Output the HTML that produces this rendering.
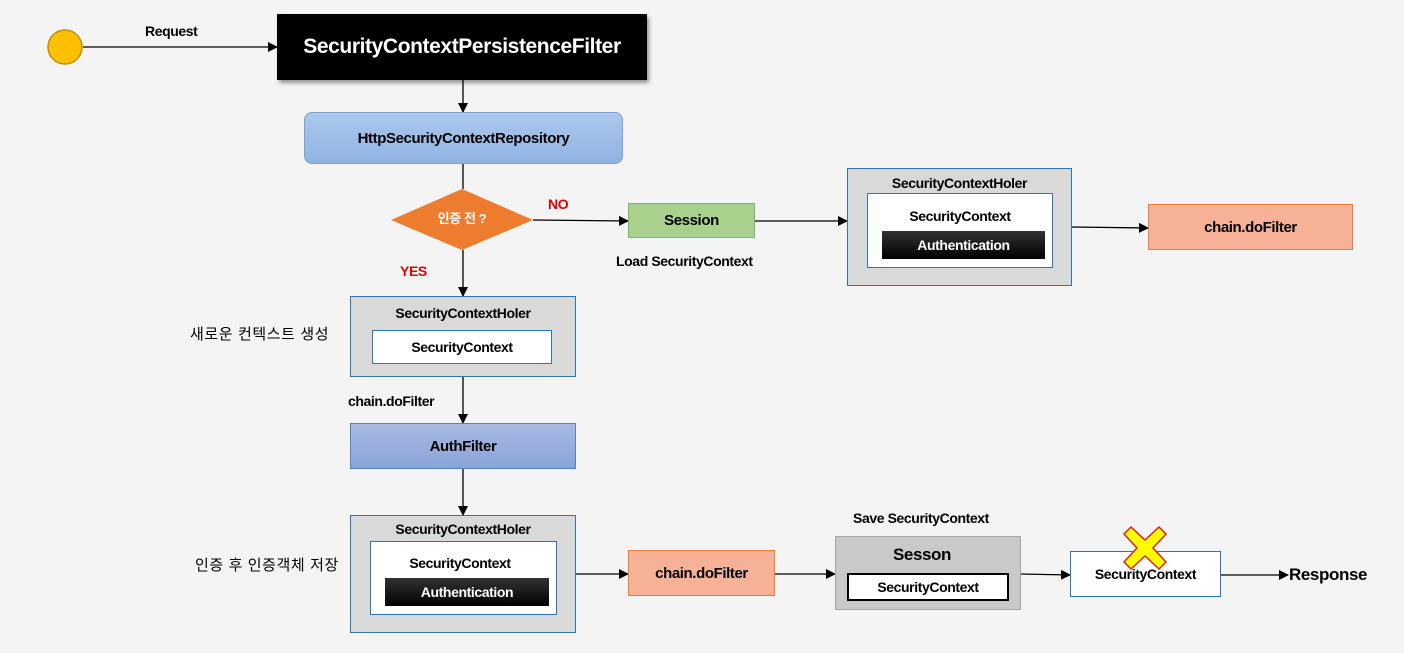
<!DOCTYPE html>
<html><head><meta charset="utf-8"><style>
body{margin:0;width:1404px;height:653px;background:#f4f4f4;position:relative;overflow:hidden;font-family:"Liberation Sans","Noto Sans CJK KR",sans-serif;font-weight:bold;color:#000}
.a{position:absolute;box-sizing:border-box;display:flex;align-items:center;justify-content:center;white-space:nowrap;letter-spacing:-0.4px}
.t{position:absolute;white-space:nowrap;font-size:14px;letter-spacing:-0.4px;line-height:16px}
svg{position:absolute;left:0;top:0}
</style></head><body>
<svg width="1404" height="653">
<defs><marker id="m" markerWidth="10" markerHeight="10" refX="9" refY="5" orient="auto" markerUnits="userSpaceOnUse"><path d="M0,0 L10,5 L0,10z" fill="#000"/></marker></defs>
<g stroke="#000" stroke-width="1.3" fill="none">
<line x1="83" y1="47" x2="277" y2="47" marker-end="url(#m)"/>
<line x1="463" y1="80" x2="463" y2="112" marker-end="url(#m)"/>
<line x1="463" y1="164" x2="463" y2="189"/>
<line x1="533" y1="220" x2="628" y2="221" marker-end="url(#m)"/>
<line x1="755" y1="221" x2="847" y2="221" marker-end="url(#m)"/>
<line x1="1072" y1="227" x2="1148" y2="228" marker-end="url(#m)"/>
<line x1="463" y1="250" x2="463" y2="296" marker-end="url(#m)"/>
<line x1="463" y1="377" x2="463" y2="423" marker-end="url(#m)"/>
<line x1="463" y1="469" x2="463" y2="515" marker-end="url(#m)"/>
<line x1="576" y1="574" x2="628" y2="574" marker-end="url(#m)"/>
<line x1="775" y1="574" x2="835" y2="574" marker-end="url(#m)"/>
<line x1="1021" y1="574" x2="1070" y2="575" marker-end="url(#m)"/>
<line x1="1221" y1="575" x2="1288" y2="575" marker-end="url(#m)"/>
</g>
<circle cx="65" cy="47" r="17" fill="#ffc000" stroke="#bf9000" stroke-width="1.5"/>
<polygon points="391,220 462,189 533,220 462,250" fill="#ee7c2e"/>
</svg>
<div class="t" style="left:145px;top:23px">Request</div>
<div class="a" style="left:277px;top:14px;width:370px;height:66px;background:#000;color:#fff;font-size:21px;box-shadow:2px 3px 4px rgba(0,0,0,.4)">SecurityContextPersistenceFilter</div>
<div class="a" style="left:304px;top:112px;width:319px;height:52px;background:linear-gradient(#acc8ec,#8fb3e2);border:1px solid #7ba0d4;border-radius:8px;font-size:15px">HttpSecurityContextRepository</div>
<div class="t" style="left:391px;top:211px;width:142px;text-align:center;color:#fff;font-size:13px">인증 전 ?</div>
<div class="t" style="left:548px;top:196px;color:#e00000">NO</div>
<div class="t" style="left:400px;top:263px;color:#e00000">YES</div>
<div class="a" style="left:628px;top:203px;width:127px;height:35px;background:#a9d18e;border:1px solid #82b366;font-size:15px">Session</div>
<div class="t" style="left:616px;top:253px">Load SecurityContext</div>
<div class="a" style="left:847px;top:168px;width:225px;height:118px;background:#d9d9d9;border:1px solid #2e75b6"></div>
<div class="t" style="left:847px;top:175px;width:225px;text-align:center">SecurityContextHoler</div>
<div class="a" style="left:867px;top:193px;width:186px;height:75px;background:#fff;border:1px solid #2e75b6"></div>
<div class="t" style="left:867px;top:208px;width:186px;text-align:center">SecurityContext</div>
<div class="a" style="left:882px;top:231px;width:163px;height:28px;background:linear-gradient(#333,#000);color:#fff;font-size:14px">Authentication</div>
<div class="a" style="left:1148px;top:204px;width:205px;height:46px;background:#f7b196;border:1px solid #ed7d31;font-size:15px">chain.doFilter</div>
<div class="a" style="left:350px;top:296px;width:226px;height:81px;background:#d9d9d9;border:1px solid #2e75b6"></div>
<div class="t" style="left:350px;top:305px;width:226px;text-align:center">SecurityContextHoler</div>
<div class="a" style="left:372px;top:330px;width:180px;height:34px;background:#fff;border:1px solid #2e75b6;font-size:14px">SecurityContext</div>
<div class="t" style="left:190px;top:327px;font-weight:normal;font-size:15px;letter-spacing:0.6px">새로운 컨텍스트 생성</div>
<div class="t" style="left:348px;top:393px">chain.doFilter</div>
<div class="a" style="left:350px;top:423px;width:226px;height:46px;background:linear-gradient(#a8b9e2,#8aa4d8);border:1px solid #5b7fc4;font-size:15px">AuthFilter</div>
<div class="a" style="left:350px;top:515px;width:226px;height:118px;background:#d9d9d9;border:1px solid #2e75b6"></div>
<div class="t" style="left:350px;top:521px;width:226px;text-align:center">SecurityContextHoler</div>
<div class="a" style="left:370px;top:541px;width:187px;height:74px;background:#fff;border:1px solid #2e75b6"></div>
<div class="t" style="left:370px;top:555px;width:180px;text-align:center">SecurityContext</div>
<div class="a" style="left:385px;top:578px;width:164px;height:28px;background:linear-gradient(#333,#000);color:#fff;font-size:14px">Authentication</div>
<div class="t" style="left:195px;top:558px;font-weight:normal;font-size:15px;letter-spacing:0.6px">인증 후 인증객체 저장</div>
<div class="a" style="left:628px;top:550px;width:147px;height:46px;background:#f7b196;border:1px solid #ed7d31;font-size:15px">chain.doFilter</div>
<div class="t" style="left:853px;top:510px">Save SecurityContext</div>
<div class="a" style="left:835px;top:536px;width:186px;height:74px;background:#c9c9c9;border:1px solid #a6a6a6"></div>
<div class="t" style="left:835px;top:546px;width:174px;text-align:center;font-size:17px;line-height:18px">Sesson</div>
<div class="a" style="left:847px;top:573px;width:162px;height:28px;background:#fff;border:2px solid #000;font-size:14px">SecurityContext</div>
<div class="a" style="left:1070px;top:551px;width:151px;height:46px;background:#fff;border:1px solid #2e75b6;font-size:14px">SecurityContext</div>
<svg width="1404" height="653" style="pointer-events:none"><path d="M1131,527 L1145,540 L1159,527 L1166,534 L1153,548 L1166,562 L1159,569 L1145,556 L1131,569 L1124,562 L1137,548 L1124,534 Z" fill="#ffff00" stroke="#e02020" stroke-width="1.5"/></svg>
<div class="t" style="left:1289px;top:566px;font-size:17px;line-height:18px">Response</div>
</body></html>
